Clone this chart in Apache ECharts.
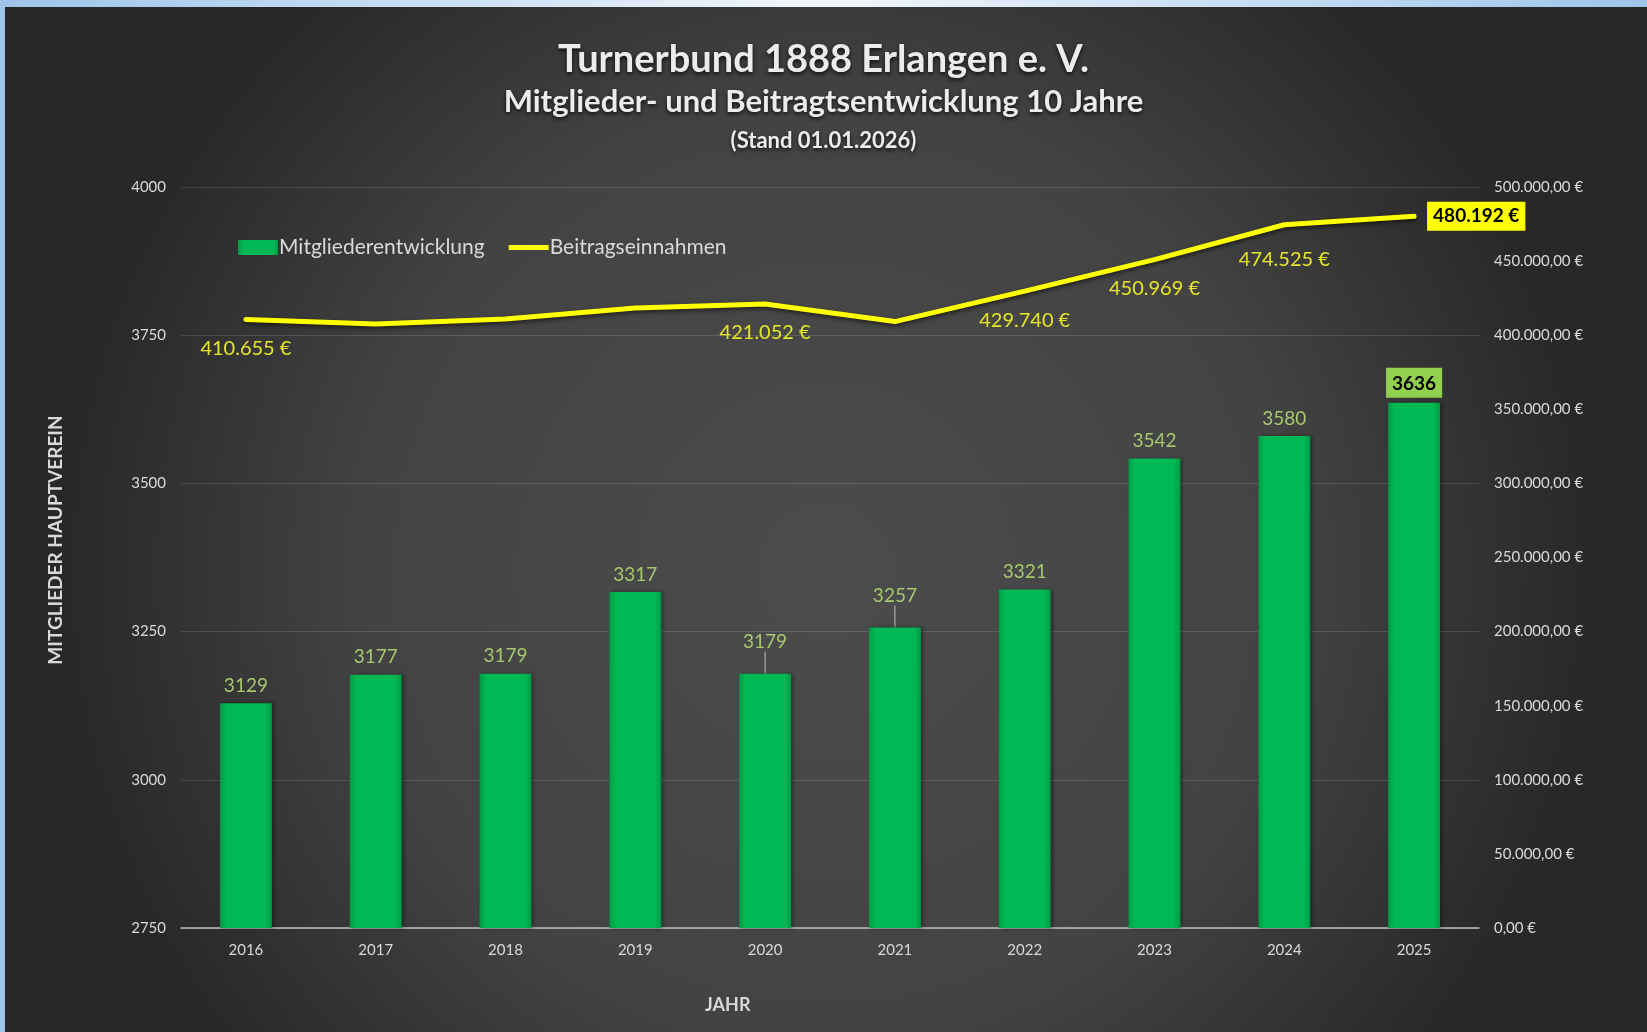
<!DOCTYPE html>
<html lang="de">
<head>
<meta charset="UTF-8">
<title>Turnerbund 1888 Erlangen e. V.</title>
<script src="https://cdn.jsdelivr.net/npm/echarts@6/dist/echarts.min.js"></script>
<style>
html, body { margin: 0; padding: 0; background: #9ec5ea; }
#chart { width: 1647px; height: 1032px; }
</style>
</head>
<body>
<div id="chart"></div>
<script>
// Daten
const years = ['2016', '2017', '2018', '2019', '2020', '2021', '2022', '2023', '2024', '2025'];
const members = [3129, 3177, 3179, 3317, 3179, 3257, 3321, 3542, 3580, 3636];
const revenue = [410655, 407500, 411000, 418400, 421052, 409200, 429740, 450969, 474525, 480192];
const revenueLabelShown = [true, false, false, false, true, false, true, true, true, true];
const leftTicks = { min: 2750, max: 4000, interval: 250 };
const rightTicks = { min: 0, max: 500000, interval: 50000 };

const FONT = 'Lato, "Open Sans", sans-serif';

function thousands(n) {
  return String(Math.round(n)).replace(/\B(?=(\d{3})+(?!\d))/g, '.');
}
function euro2(v) {
  return thousands(v) + ',00 €';
}

const lastIdx = years.length - 1;

const barData = members.map(function (v, i) {
  const item = { value: v };
  if (i === lastIdx) {
    item.label = {
      color: '#000', fontWeight: 'bold', backgroundColor: '#92d050',
      padding: [7, 6, 4, 6], distance: 5
    };
  }
  if (i === 4 || i === 5) {
    item.labelLine = { show: true, lineStyle: { color: '#bfbfbf', width: 1 } };
  }
  return item;
});

const lineData = revenue.map(function (v, i) {
  const item = { value: v };
  if (!revenueLabelShown[i]) {
    item.label = { show: false };
  } else if (i === lastIdx) {
    item.label = {
      show: true, position: 'right', distance: 12,
      color: '#000', fontWeight: 'bold', backgroundColor: '#ffff00',
      padding: [6, 6, 4, 6], fontSize: 19
    };
  } else if (i === 8) {
    item.label = { offset: [0, 6] };
  }
  return item;
});

const titleShadow = { textShadowColor: 'rgba(0,0,0,0.8)', textShadowBlur: 4, textShadowOffsetY: 2 };

const chart = echarts.init(document.getElementById('chart'));
chart.setOption({
  animation: false,
  textStyle: { fontFamily: FONT },
  graphic: [
    {
      type: 'rect', z: -10, silent: true,
      shape: { x: 5, y: 7, width: 1642, height: 1025 },
      style: {
        fill: {
          type: 'radial', x: 0.5, y: 0.55, r: 0.75,
          colorStops: [
            { offset: 0, color: '#4c4c4c' },
            { offset: 0.6, color: '#434343' },
            { offset: 1, color: '#282828' }
          ]
        }
      }
    },
    {
      type: 'rect', z: -11, silent: true,
      shape: { x: 0, y: 0, width: 1647, height: 7 },
      style: {
        fill: {
          type: 'linear', x: 0, y: 0, x2: 1, y2: 0,
          colorStops: [
            { offset: 0, color: '#9ec5ea' },
            { offset: 0.5, color: '#f2f6fb' },
            { offset: 1, color: '#9ec5ea' }
          ]
        }
      }
    },
    {
      type: 'text', left: 705, top: 996,
      style: { text: 'JAHR', fill: '#d9d9d9', font: 'bold 18px ' + FONT }
    },
    {
      type: 'text', x: 56, y: 540, rotation: Math.PI / 2,
      style: {
        text: 'MITGLIEDER HAUPTVEREIN', fill: '#d9d9d9',
        font: 'bold 19px ' + FONT, align: 'center', verticalAlign: 'middle'
      }
    }
  ],
  title: [
    {
      text: 'Turnerbund 1888 Erlangen e. V.', left: 'center', top: 36,
      textStyle: Object.assign({ color: '#ececec', fontSize: 38, fontWeight: 'bold' }, titleShadow)
    },
    {
      text: 'Mitglieder- und Beitragtsentwicklung 10 Jahre', left: 'center', top: 81,
      textStyle: Object.assign({ color: '#ececec', fontSize: 31, fontWeight: 'bold' }, titleShadow)
    },
    {
      text: '(Stand 01.01.2026)', left: 'center', top: 125,
      textStyle: Object.assign({ color: '#ececec', fontSize: 22, fontWeight: 'bold' }, titleShadow)
    }
  ],
  legend: {
    left: 233, top: 232,
    itemGap: 24, itemWidth: 40, itemHeight: 15,
    textStyle: { color: '#d9d9d9', fontSize: 21, padding: [0, 0, 0, -4] },
    data: [
      { name: 'Mitgliederentwicklung', icon: 'rect' },
      { name: 'Beitragseinnahmen', icon: 'path://M0,0 L40,0 L40,5 L0,5 Z' }
    ]
  },
  grid: { left: 181, right: 168, top: 187, bottom: 104 },
  xAxis: {
    type: 'category',
    data: years,
    axisLine: { lineStyle: { color: '#bfbfbf', width: 1.5 } },
    axisTick: { show: false },
    axisLabel: { color: '#d9d9d9', fontSize: 15, margin: 15 }
  },
  yAxis: [
    {
      type: 'value',
      min: leftTicks.min, max: leftTicks.max, interval: leftTicks.interval,
      axisLine: { show: false },
      axisTick: { show: false },
      axisLabel: { color: '#d9d9d9', fontSize: 15, margin: 15, formatter: function (v) { return String(v); } },
      splitLine: { lineStyle: { color: 'rgba(255,255,255,0.13)', width: 1 } }
    },
    {
      type: 'value',
      min: rightTicks.min, max: rightTicks.max, interval: rightTicks.interval,
      axisLine: { show: false },
      axisTick: { show: false },
      splitLine: { show: false },
      axisLabel: { color: '#d9d9d9', fontSize: 15, margin: 15, formatter: euro2 }
    }
  ],
  series: [
    {
      name: 'Mitgliederentwicklung',
      type: 'bar',
      yAxisIndex: 0,
      barWidth: '40%',
      data: barData,
      itemStyle: {
        color: {
          type: 'linear', x: 0, y: 0, x2: 1, y2: 0,
          colorStops: [
            { offset: 0, color: '#009a44' },
            { offset: 0.12, color: '#00b854' },
            { offset: 0.88, color: '#00b854' },
            { offset: 1, color: '#009a44' }
          ]
        },
        shadowColor: 'rgba(0,0,0,0.4)', shadowBlur: 4, shadowOffsetX: 2
      },
      label: {
        show: true, position: 'top', distance: 8,
        color: '#a6c86e', fontSize: 19
      },
      labelLayout: function (p) {
        if (p.dataIndex === 4 || p.dataIndex === 5) return { dy: -14 };
        return {};
      },
      z: 2
    },
    {
      name: 'Beitragseinnahmen',
      type: 'line',
      yAxisIndex: 1,
      data: lineData,
      symbol: 'circle',
      symbolSize: 2,
      lineStyle: {
        color: '#ffff00', width: 5, join: 'round', cap: 'round',
        shadowColor: 'rgba(0,0,0,0.6)', shadowBlur: 4, shadowOffsetY: 2
      },
      itemStyle: { color: '#ffff00' },
      label: {
        show: true, position: 'bottom', distance: 18,
        color: '#e6e628', fontSize: 20,
        formatter: function (p) { return thousands(p.value) + ' €'; }
      },
      z: 3
    }
  ]
});
</script>
</body>
</html>
